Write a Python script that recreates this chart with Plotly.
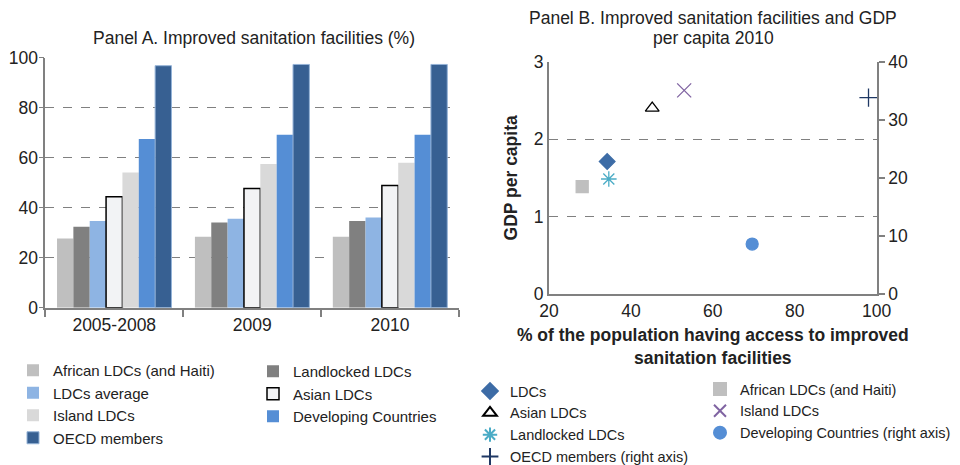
import plotly.graph_objects as go

# ---------------- Data ----------------
categories = ["2005-2008", "2009", "2010"]

african = [27.7, 28.4, 28.4]
landlocked = [32.4, 34.1, 34.7]
ldcs_avg = [34.7, 35.6, 36.1]
asian = [44.4, 47.7, 48.9]
island = [54.1, 57.5, 58.0]
developing = [67.5, 69.2, 69.2]
oecd = [96.8, 97.3, 97.3]

bar_names = ["African LDCs (and Haiti)", "Landlocked LDCs", "LDCs average",
             "Asian LDCs", "Island LDCs", "Developing Countries", "OECD members"]
bar_values = [african, landlocked, ldcs_avg, asian, island, developing, oecd]

scatter_names = ["LDCs", "Asian LDCs", "Landlocked LDCs", "OECD members (right axis)",
                 "African LDCs (and Haiti)", "Island LDCs", "Developing Countries (right axis)"]
sanitation_2010 = [34.2, 45.2, 34.6, 98.0, 28.1, 53.0, 69.6]
gdp_per_capita = [1.71, 2.40, 1.485, 33.8, 1.386, 2.63, 8.6]

# ---------------- Styles ----------------
# The page body has an 8px default margin, so the figure is sized to fit the window
OFF = 8
W, H = 960 - OFF, 465 - OFF
FONT = "Liberation Sans, Arial, sans-serif"
GRAY = "#808080"
TXT = 17.5

bar_colors = ["#bfbfbf", "#808080", "#8eb4e3", "#f2f3f5", "#d9d9d9", "#558ed5", "#376092"]
bar_lines = [(0, "#bfbfbf"), (0, "#808080"), (0, "#8eb4e3"), (1.5, "#000000"),
             (0, "#d9d9d9"), (0, "#558ed5"), (1, "#95b3d7")]
bar_legend = ["legend", "legend2", "legend", "legend2", "legend", "legend2", "legend"]

sc_symbols = ["diamond", "triangle-up-open", "asterisk-open", "cross-thin-open",
              "square", "x-thin-open", "circle"]
sc_colors = ["#3d6ca6", "#000000", "#4bacc6", "#1f3864", "#bfbfbf", "#8064a2", "#558ed5"]
sc_sizes = [12, 12, 13, 13, 12, 14, 12]
sc_axis = ["y2", "y2", "y2", "y3", "y2", "y2", "y3"]
sc_legend = ["legend3", "legend3", "legend3", "legend3", "legend4", "legend4", "legend4"]

def px_x(p):
    return (p - OFF) / W

def px_y(p):
    return 1 - (p - OFF) / H

fig = go.Figure()

for name, vals, col, (lw, lc), lg in zip(bar_names, bar_values, bar_colors, bar_lines, bar_legend):
    fig.add_trace(go.Bar(
        x=categories, y=vals, name=name,
        marker=dict(color=col, line=dict(width=lw, color=lc)),
        xaxis="x", yaxis="y", legend=lg,
    ))

for name, xv, yv, sym, col, sz, ax, lg in zip(scatter_names, sanitation_2010, gdp_per_capita,
                                              sc_symbols, sc_colors, sc_sizes, sc_axis, sc_legend):
    fig.add_trace(go.Scatter(
        x=[xv], y=[yv], name=name, mode="markers",
        marker=dict(symbol=sym, color=col, size=sz, line=dict(color=col, width=1.3)),
        xaxis="x2", yaxis=ax, legend=lg, cliponaxis=False,
    ))

legend_a = dict(font=dict(family=FONT, size=15, color="#222222"),
                bgcolor="rgba(0,0,0,0)", xanchor="left", yanchor="top",
                orientation="v", itemwidth=30, tracegroupgap=0)
legend_b = dict(font=dict(family=FONT, size=14.5, color="#222222"),
                bgcolor="rgba(0,0,0,0)", xanchor="left", yanchor="top",
                orientation="v", itemwidth=30, tracegroupgap=0, itemsizing="constant")

fig.update_layout(
    width=W, height=H,
    margin=dict(l=0, r=0, t=0, b=0, autoexpand=False),
    paper_bgcolor="white", plot_bgcolor="white",
    font=dict(family=FONT, size=TXT, color="#222222"),
    barmode="group", bargap=0.17, bargroupgap=0,
    xaxis=dict(domain=[px_x(45.3), px_x(459)], anchor="y",
               tickson="boundaries", ticks="outside", ticklen=7, tickcolor=GRAY, tickwidth=1.5,
               showline=True, linecolor=GRAY, linewidth=2,
               tickfont=dict(size=TXT)),
    yaxis=dict(domain=[px_y(307.7), px_y(57.7)], anchor="x", range=[0, 100], dtick=20,
               showgrid=True, gridcolor=GRAY, griddash="dash", gridwidth=1.2,
               zeroline=False, showline=True, linecolor=GRAY, linewidth=1.5,
               ticks="outside", ticklen=5, tickcolor=GRAY, tickfont=dict(size=TXT),
               ticklabelstandoff=-3),
    xaxis2=dict(domain=[px_x(549), px_x(876.7)], anchor="y2", range=[20, 100], dtick=20,
                showgrid=False, zeroline=False, showline=True, linecolor=GRAY, linewidth=2,
                ticks="", tickfont=dict(size=TXT),
                title=dict(text="<b>% of the population having access to improved<br>sanitation facilities</b>",
                           font=dict(size=TXT), standoff=9)),
    yaxis2=dict(domain=[px_y(294), px_y(61.7)], anchor="x2", range=[0, 3], dtick=1,
                showgrid=True, gridcolor=GRAY, griddash="dash", gridwidth=1.2,
                zeroline=False, showline=True, linecolor=GRAY, linewidth=2,
                ticks="", tickfont=dict(size=TXT),
                title=dict(text="<b>GDP per capita</b>", font=dict(size=TXT), standoff=12)),
    yaxis3=dict(overlaying="y2", anchor="x2", side="right", range=[0, 40], dtick=10,
                showgrid=False, zeroline=False, showline=True, linecolor=GRAY, linewidth=2,
                ticks="outside", ticklen=6, tickcolor=GRAY, tickwidth=1.5, tickfont=dict(size=TXT)),
    legend=dict(x=px_x(13), y=px_y(354), **legend_a),
    legend2=dict(x=px_x(253), y=px_y(355), **legend_a),
    legend3=dict(x=px_x(470), y=px_y(375), **legend_b),
    legend4=dict(x=px_x(700), y=px_y(373), **legend_b),
    annotations=[
        dict(text="Panel A. Improved sanitation facilities (%)", x=px_x(254), y=px_y(38),
             xref="paper", yref="paper", showarrow=False, xanchor="center", yanchor="middle",
             font=dict(size=TXT)),
        dict(text="Panel B. Improved sanitation facilities and GDP",
             x=px_x(713), y=px_y(18.5), xref="paper", yref="paper", showarrow=False,
             xanchor="center", yanchor="middle", font=dict(size=TXT)),
        dict(text="per capita 2010",
             x=px_x(713), y=px_y(38.5), xref="paper", yref="paper", showarrow=False,
             xanchor="center", yanchor="middle", font=dict(size=TXT)),
    ],
)

fig.write_html("out.html")
